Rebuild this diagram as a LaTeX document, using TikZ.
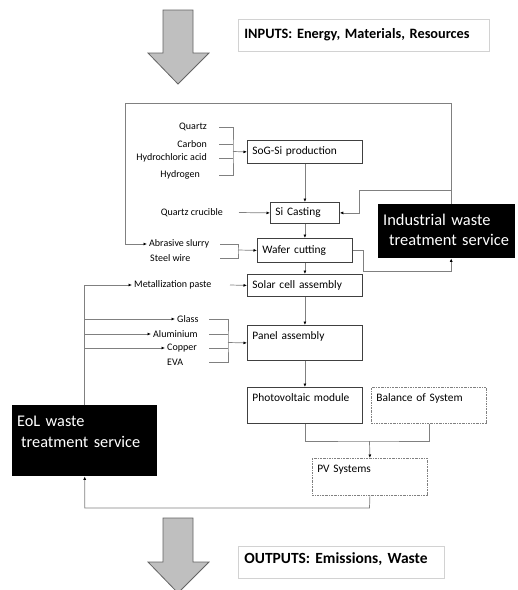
\documentclass[tikz,border=0pt]{standalone}
\usepackage{fontspec}
\setmainfont{Carlito}
\usetikzlibrary{arrows.meta}
\begin{document}
\begin{tikzpicture}[x=1pt,y=-1pt,
  wire/.style={draw=wirecolor,line width=0.7pt},
  arr/.style={wire,-{Latex[length=3.5pt,width=3pt,color=tipcolor]}},
  procbox/.style={draw=boxcolor,line width=0.8pt,anchor=north west,align=left,inner xsep=5pt,inner ysep=3pt,font=\fontsize{11.4}{13}\selectfont},
  sysbox/.style={procbox,draw=wirecolor,dash pattern=on 2pt off 1pt on 0.6pt off 1pt},
  darkbox/.style={fill=black,text=white,anchor=north west,align=left,inner xsep=5pt,inner ysep=3pt},
  lbl/.style={inner sep=2pt,font=\fontsize{10}{12}\selectfont},
  infobox/.style={draw=infocolor,line width=0.8pt,anchor=north west,align=left,inner xsep=6pt,inner ysep=3pt},
  bigarrow/.style={fill=arrowfill,draw=arrowline,line width=0.8pt}]
\definecolor{boxcolor}{RGB}{64,64,64}
\definecolor{wirecolor}{RGB}{128,128,128}
\definecolor{tipcolor}{RGB}{0,0,0}
\definecolor{infocolor}{RGB}{210,210,210}
\definecolor{arrowfill}{RGB}{191,191,191}
\definecolor{arrowline}{RGB}{100,100,100}
\useasboundingbox[fill=white] (0,0) rectangle (518,590);
\draw[bigarrow] (163,10) -- (193,10) -- (193,53) -- (209,53) -- (178,84) -- (148,53) -- (163,53) -- cycle;
\draw[bigarrow] (163,518) -- (193,518) -- (193,562) -- (209,562) -- (178,593) -- (148,562) -- (163,562) -- cycle;
\node[infobox,text width=239pt,text height=15.6pt,text depth=10.4pt,font=\bfseries\fontsize{14.3}{17}\selectfont] (inputs) at (238,19) {INPUTS: Energy, Materials, Resources};
\node[infobox,text width=194pt,text height=14pt,text depth=12pt,font=\bfseries\fontsize{15.5}{18}\selectfont] (outputs) at (238,546) {OUTPUTS: Emissions, Waste};
\node[procbox,text width=105pt,minimum height=23pt] (sog) at (247,140) {SoG-Si production};
\node[procbox,text width=59pt,minimum height=21pt] (sicast) at (270,202) {Si Casting};
\node[procbox,text width=85pt,minimum height=24pt] (wafer) at (257,238) {Wafer cutting};
\node[procbox,text width=105pt,minimum height=22pt] (solar) at (247,274) {Solar cell assembly};
\node[procbox,text width=105pt,text height=11pt,text depth=18pt] (panel) at (247,325) {Panel assembly};
\node[procbox,text width=105pt,text height=11.5pt,text depth=18.5pt] (pvmod) at (247,387) {Photovoltaic module};
\node[sysbox,text width=105pt,text height=11.5pt,text depth=18.5pt] (bos) at (371,387) {Balance of System};
\node[sysbox,text width=105pt,text height=11.5pt,text depth=19.5pt] (pvsys) at (312,458) {PV Systems};
\node[darkbox,text width=127pt,text height=18.5pt,text depth=29.5pt,font=\fontsize{16.4}{20}\selectfont] (indus) at (378,204) {Industrial waste\\\hspace*{6pt}treatment service};
\node[darkbox,text width=135pt,text height=18.5pt,text depth=46.5pt,font=\fontsize{16.3}{21}\selectfont] (eol) at (12,405) {EoL waste\\\hspace*{4pt}treatment service};
\node[lbl,anchor=east] (quartz) at (209,127) {Quartz};
\node[lbl,anchor=east] (carbon) at (209,144) {Carbon};
\node[lbl,anchor=east] (hcl) at (209,158) {Hydrochloric acid};
\node[lbl,anchor=east] (hydrogen) at (202,175) {Hydrogen};
\node[lbl,anchor=east] (crucible) at (225,212.5) {Quartz crucible};
\node[lbl,anchor=west] (slurry) at (147,244) {Abrasive slurry};
\node[lbl,anchor=west] (steel) at (148,258) {Steel wire};
\node[lbl,anchor=west] (metal) at (132,285) {Metallization paste};
\node[lbl,anchor=west] (glass) at (175,319) {Glass};
\node[lbl,anchor=west] (alu) at (151,334) {Aluminium};
\node[lbl,anchor=west] (copper) at (165,348) {Copper};
\node[lbl,anchor=west] (eva) at (165,362) {EVA};
\coordinate (sogtap) at (219,151.5);
\coordinate (sogjoin) at (233,151.5);
\coordinate (waftap) at (220,250);
\coordinate (wafjoin) at (238,250);
\coordinate (metaltap) at (230,285);
\coordinate (pantap) at (209,342.5);
\coordinate (panjoin) at (228,342.5);
\coordinate (loopnw) at (125,103);
\coordinate (sibr) at (451,190);
\coordinate (sibend) at (359,190);
\coordinate (wafbend) at (363,271);
\coordinate (pvjoin) at (369.5,441);
\coordinate (eolbend) at (369.5,508);
\draw[wire] (quartz.east -| sogtap) -| (sogjoin) |- (hydrogen.east -| sogtap);
\draw[wire] (carbon.east -| sogtap) -- (carbon.east -| sogjoin);
\draw[wire] (hcl.east -| sogtap) -- (hcl.east -| sogjoin);
\draw[arr] (sogjoin) -- (sog.west);
\draw[arr] ([xshift=14pt]crucible.east) -- (sicast.west);
\draw[wire] (slurry.east -| waftap) -| (wafjoin) |- (steel.east -| waftap);
\draw[arr] (wafjoin) -- (wafer.west);
\draw[arr] (metal.east -| metaltap) -- (solar.west);
\draw[wire] (glass.east -| pantap) -| (panjoin) |- (eva.east -| pantap);
\draw[wire] (alu.east -| pantap) -- (alu.east -| panjoin);
\draw[wire] (copper.east -| pantap) -- (copper.east -| panjoin);
\draw[arr] (panjoin) -- (panel.west);
\draw[arr] (sog.south) -- (sicast.north);
\draw[arr] (sicast.south) -- (wafer.north);
\draw[arr] (wafer.south) -- (solar.north);
\draw[arr] (solar.south) -- (panel.north);
\draw[arr] (panel.south) -- (pvmod.north);
\draw[arr] ([xshift=4.5pt]indus.north) |- (loopnw) |- (slurry.west);
\draw[arr] (sibr) -- (sibend) |- (sicast.east);
\draw[arr] (wafer.east) -| (wafbend) -| ([xshift=4.5pt]indus.south);
\draw[wire] (pvmod.south) |- (pvjoin) -| (bos.south);
\draw[arr] (pvjoin) -- (pvsys.north);
\draw[arr] (pvsys.south) -- (eolbend) -| (eol.south);
\draw[arr] (eol.north) |- (metal.west);
\draw[arr] (eol.north) |- (glass.west);
\draw[arr] (eol.north) |- (alu.west);
\draw[arr] (eol.north) |- (copper.west);
\end{tikzpicture}
\end{document}
